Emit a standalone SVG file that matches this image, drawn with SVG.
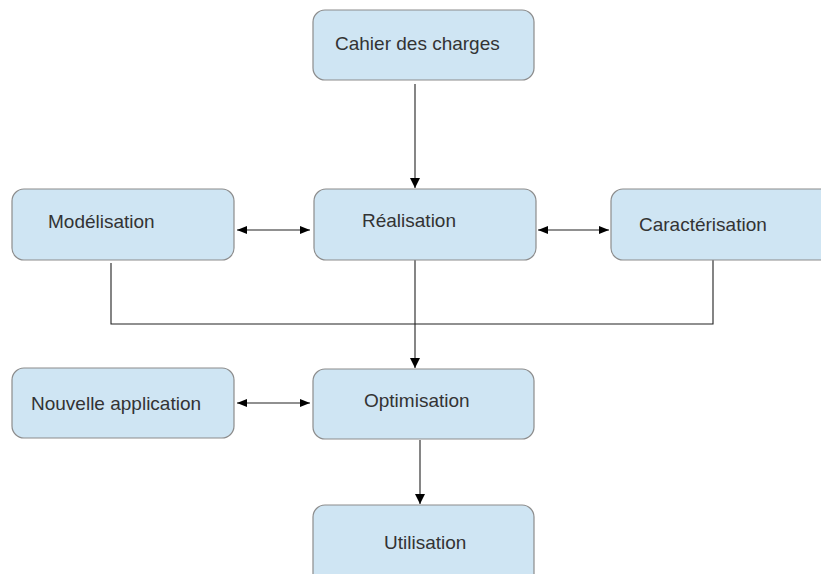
<svg xmlns="http://www.w3.org/2000/svg" width="821" height="574" viewBox="0 0 821 574">
<style>
.box{fill:#cfe5f3;stroke:#8c8c8c;stroke-width:1.2}
.lbl{font-family:"Liberation Sans",Arial,sans-serif;font-size:19px;fill:#333333}
.ln{fill:none;stroke:#222;stroke-width:1.1}
</style>
<defs>
<marker id="ah" viewBox="0 0 10 10" refX="10" refY="5" markerWidth="10" markerHeight="10" markerUnits="userSpaceOnUse" orient="auto-start-reverse">
<path d="M0,1 L10,5 L0,9 Z" fill="#000"/>
</marker>
<marker id="av" viewBox="0 0 10 12" refX="10" refY="6" markerWidth="12" markerHeight="12" markerUnits="userSpaceOnUse" orient="auto">
<path d="M0,1 L10,6 L0,11 Z" fill="#000"/>
</marker>
</defs>
<rect width="821" height="574" fill="#ffffff"/>
<g id="connectors">
<line class="ln" x1="415" y1="84" x2="415" y2="188" marker-end="url(#av)"/>
<line class="ln" x1="237" y1="230" x2="310" y2="230" marker-start="url(#ah)" marker-end="url(#ah)"/>
<line class="ln" x1="538" y1="230" x2="609" y2="230" marker-start="url(#ah)" marker-end="url(#ah)"/>
<polyline class="ln" points="111,263 111,324 713,324 713,260"/>
<line class="ln" x1="415" y1="260" x2="415" y2="368" marker-end="url(#av)"/>
<line class="ln" x1="237" y1="403" x2="310" y2="403" marker-start="url(#ah)" marker-end="url(#ah)"/>
<line class="ln" x1="420" y1="440" x2="420" y2="504" marker-end="url(#av)"/>
</g>
<g id="cahier"><rect class="box" x="313" y="10" width="221" height="70" rx="12"/><text class="lbl" x="335" y="50">Cahier des charges</text></g>
<g id="modelisation"><rect class="box" x="12" y="189" width="222" height="71" rx="12"/><text class="lbl" x="48" y="228">Modélisation</text></g>
<g id="realisation"><rect class="box" x="314" y="189" width="222" height="71" rx="12"/><text class="lbl" x="362" y="227">Réalisation</text></g>
<g id="caracterisation"><rect class="box" x="611" y="189" width="230" height="71" rx="12"/><text class="lbl" x="639" y="231">Caractérisation</text></g>
<g id="nouvelle"><rect class="box" x="12" y="368" width="222" height="70" rx="12"/><text class="lbl" x="31" y="410">Nouvelle application</text></g>
<g id="optimisation"><rect class="box" x="313" y="369" width="221" height="70" rx="12"/><text class="lbl" x="364" y="407">Optimisation</text></g>
<g id="utilisation"><rect class="box" x="313" y="505" width="221" height="90" rx="12"/><text class="lbl" x="384" y="549">Utilisation</text></g>
</svg>
